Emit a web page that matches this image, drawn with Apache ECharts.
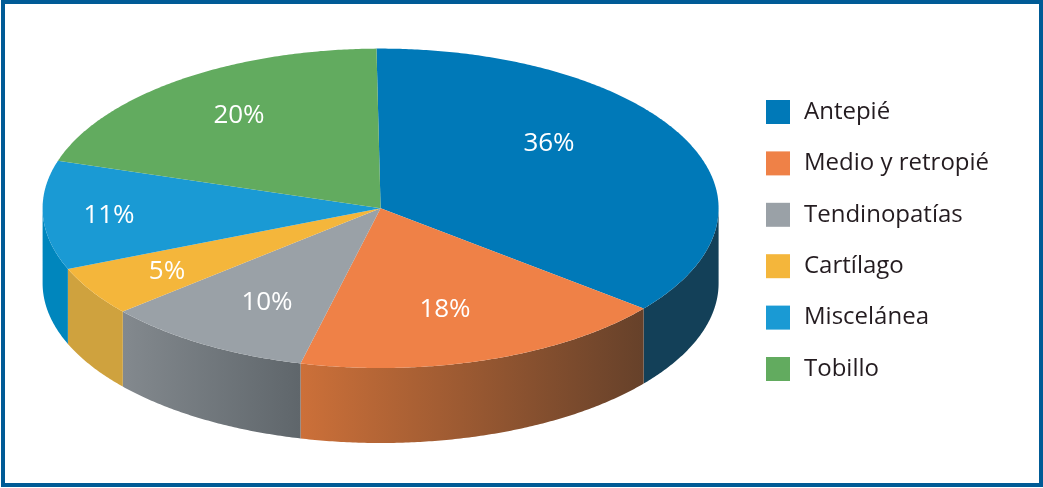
<!DOCTYPE html>
<html>
<head>
<meta charset="utf-8">
<style>html,body{margin:0;padding:0;background:#fff}#c{width:1043px;height:488px}</style>
<script src="https://cdn.jsdelivr.net/npm/echarts@6/dist/echarts.min.js"></script>
</head>
<body>
<div id="c"></div>
<script>
const categories = ['Antepié','Medio y retropié','Tendinopatías','Cartílago','Miscelánea','Tobillo'];
const values = [36,18,10,5,11,20];

const topColors = ['#0079b8','#ef8147','#9aa1a7','#f4b63b','#1a9ad4','#62ab5f'];
const sideColors = [['#134058','#134058'],['#cc7039','#66412a'],['#83898e','#5f666b'],['#cfa23e','#cfa23e'],['#0086bd','#0086bd'],['#62ab5f','#62ab5f']];
const labelOffsets = [[169,-64],[65,102],[-113,95],[-213,64],[-271,8],[-141,-92]];

const CX = 380.6, CY = 208.3, RX = 338, RY = 159.7, DEPTH = 75, START = -0.7;
const total = values.reduce((a,b)=>a+b,0);

function pt(deg, dy){
  const t = deg*Math.PI/180;
  return [CX+RX*Math.sin(t), CY-RY*Math.cos(t)+dy];
}
function arcPts(a,b,dy){
  const out=[], n=Math.max(2,Math.ceil(Math.abs(b-a)*2));
  for(let i=0;i<=n;i++) out.push(pt(a+(b-a)*i/n,dy));
  return out;
}
function render(idx){
  return function(){
    let a=START;
    for(let i=0;i<idx;i++) a+=values[i]/total*360;
    const b=a+values[idx]/total*360;
    const children=[];
    const sa=Math.max(a,90), sb=Math.min(b,270);
    if(sb>sa){
      const upper=arcPts(sa,sb,0), lower=arcPts(sa,sb,DEPTH).reverse();
      const c=sideColors[idx];
      children.push({type:'polygon',shape:{points:upper.concat(lower)},
        style:{fill:{type:'linear',x:0,y:0,x2:1,y2:0,colorStops:[{offset:0,color:c[0]},{offset:1,color:c[1]}]}}});
    }
    children.push({type:'polygon',z2:2,shape:{points:[[CX,CY]].concat(arcPts(a,b,0))},style:{fill:topColors[idx]}});
    children.push({type:'text',z2:3,style:{text:values[idx]+'%',x:380+labelOffsets[idx][0],y:208+labelOffsets[idx][1],
      fill:'#fff',font:'26px "Open Sans"',align:'center',verticalAlign:'middle'}});
    return {type:'group',children};
  };
}
const chart=echarts.init(document.getElementById('c'));
chart.setOption({
  animation:false,
  legend:{
    left:766,top:100,orient:'vertical',itemWidth:24,itemHeight:24,itemGap:27.4,selectedMode:false,icon:'rect',
    padding:0,data:categories,
    textStyle:{color:'#241c20',fontFamily:'Open Sans',fontSize:24,padding:[2,0,0,9]}
  },
  graphic:[{type:'rect',shape:{x:3,y:2,width:1038,height:483},style:{fill:'none',stroke:'#005b96',lineWidth:4},silent:true}],
  series:categories.map((name,i)=>({
    type:'custom',name,coordinateSystem:'none',renderItem:render(i),
    itemStyle:{color:topColors[i]},data:[[values[i]]],silent:true
  }))
});
</script>
</body>
</html>
